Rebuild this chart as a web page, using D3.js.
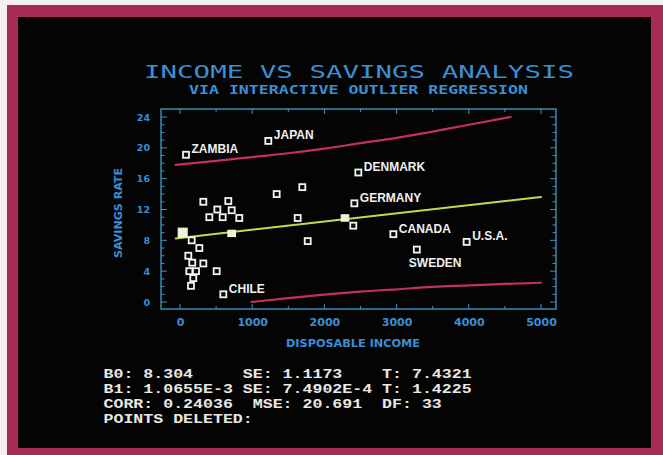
<!DOCTYPE html>
<html>
<head>
<meta charset="utf-8">
<script src="https://cdn.jsdelivr.net/npm/d3@7"></script>
<style>
  html, body { margin: 0; padding: 0; background: #ffffff; }
  svg { display: block; }
</style>
</head>
<body>
<svg id="chart" width="663" height="455"></svg>
<script>
// ---------------- DATA ----------------
const titleText = "INCOME VS SAVINGS ANALYSIS";
const subtitleText = "VIA INTERACTIVE OUTLIER REGRESSION";
const xAxisTitle = "DISPOSABLE INCOME";
const yAxisTitle = "SAVINGS RATE";
const xTickValues = [0, 1000, 2000, 3000, 4000, 5000];
const yTickValues = [0, 4, 8, 12, 16, 20, 24];

// country points: disposable income, savings rate, label
const incomes = [83, 1223, 323, 669, 517, 716, 406, 591, 821, 1339, 1694, 1630, 2285, 2470, 2415, 2400, 1769,
                 37, 716, 162, 268, 115, 323, 170, 129, 222, 508, 184, 152, 600, 2955, 3970, 3280];
const rates   = [19.1, 20.9, 13.0, 13.1, 12.0, 11.9, 11.0, 11.0, 10.9, 14.0, 14.9, 10.9, 10.9, 16.8, 12.8, 9.9, 7.9,
                 9.0, 8.9, 8.0, 7.0, 6.0, 5.0, 5.1, 4.0, 4.0, 4.0, 3.1, 2.1, 1.0, 8.8, 7.8, 6.8];
const names   = ["ZAMBIA", "JAPAN", "", "", "", "", "", "", "", "", "", "", "", "DENMARK", "GERMANY", "", "",
                 "", "", "", "", "", "", "", "", "", "", "", "", "CHILE", "CANADA", "U.S.A.", "SWEDEN"];
const selectedPoints = [17, 18, 12];   // points drawn highlighted (cursor / on-line)

// regression line and prediction band
const regX = [-60, 5000];
const regY = [8.24, 13.63];
const upperX = [-60, 500, 1000, 1500, 2000, 2500, 3000, 3500, 4000, 4580];
const upperY = [17.8, 18.3, 18.8, 19.3, 19.9, 20.6, 21.3, 22.1, 23.0, 24.0];
const lowerX = [990, 1500, 2000, 2500, 3000, 3500, 4000, 4500, 5000];
const lowerY = [0.0, 0.5, 0.95, 1.35, 1.65, 1.95, 2.15, 2.35, 2.5];

// statistics panel
const statLines = [
  "B0: 8.304     SE: 1.1173    T: 7.4321",
  "B1: 1.0655E-3 SE: 7.4902E-4 T: 1.4225",
  "CORR: 0.24036  MSE: 20.691  DF: 33",
  "POINTS DELETED:"
];

// ---------------- DRAW ----------------
const svg = d3.select("#chart");
const BLUE = "#3a8fd6";
const FRAME = "#3f93bd";

// photo border + CRT screen
svg.append("rect").attr("x", 0).attr("y", 0).attr("width", 663).attr("height", 455).attr("fill", "#f4f0f0");
svg.append("rect").attr("x", 7).attr("y", 5).attr("width", 656).attr("height", 450).attr("fill", "#a82c54");
svg.append("rect").attr("x", 18).attr("y", 17).attr("width", 633).attr("height", 431).attr("fill", "#040404");

const defs = svg.append("defs");
const glow = defs.append("filter").attr("id", "glow").attr("x", "-20%").attr("y", "-20%").attr("width", "140%").attr("height", "140%");
glow.append("feGaussianBlur").attr("stdDeviation", 0.6);

// titles
svg.append("text").attr("x", 144).attr("y", 78)
  .attr("textLength", 430).attr("lengthAdjust", "spacingAndGlyphs")
  .attr("font-family", "DejaVu Sans Mono").attr("font-size", 18.5).attr("fill", BLUE)
  .text(titleText);
svg.append("text").attr("x", 189).attr("y", 94)
  .attr("textLength", 339).attr("lengthAdjust", "spacingAndGlyphs")
  .attr("font-family", "DejaVu Sans Mono").attr("font-weight", "bold").attr("font-size", 12.5).attr("fill", BLUE)
  .text(subtitleText);

// scales
const x = d3.scaleLinear().domain([0, 5000]).range([180, 541]);
const y = d3.scaleLinear().domain([0, 24]).range([302, 117]);
const x0 = 161, x1 = 556, y0 = 109, y1 = 309;

// frame
svg.append("rect").attr("x", x0).attr("y", y0).attr("width", x1 - x0).attr("height", y1 - y0)
  .attr("fill", "none").attr("stroke", FRAME).attr("stroke-width", 1.4);

// minor/major ticks
const ticksG = svg.append("g").attr("stroke", FRAME).attr("stroke-width", 1);
d3.range(0, 25, 1).forEach(v => {
  const L = v % 4 === 0 ? 6 : 3.5;
  ticksG.append("line").attr("x1", x0).attr("x2", x0 + L).attr("y1", y(v)).attr("y2", y(v));
  ticksG.append("line").attr("x1", x1).attr("x2", x1 - L).attr("y1", y(v)).attr("y2", y(v));
});
d3.range(0, 5001, 500).forEach(v => {
  const L = v % 1000 === 0 ? 5 : 3;
  ticksG.append("line").attr("x1", x(v)).attr("x2", x(v)).attr("y1", y1).attr("y2", y1 - L);
  ticksG.append("line").attr("x1", x(v)).attr("x2", x(v)).attr("y1", y0).attr("y2", y0 + L);
});

// axis labels via d3 axes (domain/ticks hidden, the frame is drawn above)
const xAxis = d3.axisBottom(x).tickValues(xTickValues).tickSize(0).tickPadding(0).tickFormat(d3.format("d"));
const gx = svg.append("g").attr("transform", `translate(0,${318})`).call(xAxis);
gx.select(".domain").remove();
gx.selectAll("text").attr("fill", BLUE).attr("font-family", "DejaVu Sans").attr("font-weight", "bold")
  .attr("font-size", 11).attr("dy", "0.75em");

const yAxis = d3.axisLeft(y).tickValues(yTickValues).tickSize(0).tickPadding(0).tickFormat(d3.format("d"));
const gy = svg.append("g").attr("transform", `translate(${150},0)`).call(yAxis);
gy.select(".domain").remove();
gy.selectAll("text").attr("fill", BLUE).attr("font-family", "DejaVu Sans").attr("font-weight", "bold")
  .attr("font-size", 9.5);

svg.append("text").attr("x", 353).attr("y", 347).attr("text-anchor", "middle")
  .attr("textLength", 134).attr("lengthAdjust", "spacingAndGlyphs")
  .attr("font-family", "DejaVu Sans").attr("font-weight", "bold").attr("font-size", 11).attr("fill", BLUE)
  .text(xAxisTitle);
svg.append("text").attr("transform", "translate(122,213) rotate(-90)").attr("text-anchor", "middle")
  .attr("textLength", 90).attr("lengthAdjust", "spacingAndGlyphs")
  .attr("font-family", "DejaVu Sans").attr("font-weight", "bold").attr("font-size", 10).attr("fill", BLUE)
  .text(yAxisTitle);

// band lines and regression
const line = d3.line().x(d => x(d[0])).y(d => y(d[1])).curve(d3.curveMonotoneX);
const upper = upperX.map((v, i) => [v, upperY[i]]);
const lower = lowerX.map((v, i) => [v, lowerY[i]]);
const reg = regX.map((v, i) => [v, regY[i]]);
[upper, lower].forEach(pts => {
  svg.append("path").attr("d", line(pts)).attr("fill", "none").attr("stroke", "#c2305e")
    .attr("stroke-width", 2.2).attr("stroke-linecap", "round");
});
svg.append("path").attr("d", line(reg)).attr("fill", "none").attr("stroke", "#c9d84a")
  .attr("stroke-width", 2).attr("stroke-linecap", "round");

// points
const pts = incomes.map((v, i) => ({ inc: v, rate: rates[i], name: names[i], i }));
const normal = pts.filter(d => !selectedPoints.includes(d.i));
svg.append("g").selectAll("rect").data(normal).join("rect")
  .attr("x", d => x(d.inc) - 3).attr("y", d => y(d.rate) - 3)
  .attr("width", 6).attr("height", 6)
  .attr("fill", "#0a0a0a").attr("stroke", "#f4f4f0").attr("stroke-width", 1.8);
const sel = pts.filter(d => selectedPoints.includes(d.i));
svg.append("g").selectAll("rect").data(sel).join("rect")
  .attr("x", d => x(d.inc) - (d.i === selectedPoints[0] ? 4.5 : 3.8))
  .attr("y", d => y(d.rate) - (d.i === selectedPoints[0] ? 4.5 : 3.2))
  .attr("width", d => d.i === selectedPoints[0] ? 9 : 7.6)
  .attr("height", d => d.i === selectedPoints[0] ? 9 : 6.4)
  .attr("fill", "#f2f2d6").attr("stroke", "#fbfbea").attr("stroke-width", 1)
  .attr("filter", "url(#glow)");

// country labels
const labelled = pts.filter(d => d.name);
svg.append("g").selectAll("text").data(labelled).join("text")
  .attr("x", d => x(d.inc) + (d.name === "SWEDEN" ? -8 : 5.5))
  .attr("y", d => y(d.rate) + (d.name === "SWEDEN" ? 17 : -1.5))
  .attr("font-family", "Liberation Sans").attr("font-weight", "bold").attr("font-size", 12)
  .attr("fill", "#f0f0f0")
  .text(d => d.name);

// statistics text (monospace columns, each line stretched to 9.95px per character)
svg.append("g").selectAll("text").data(statLines).join("text")
  .attr("x", 103.5).attr("y", (d, i) => 377.5 + i * 15.2)
  .attr("textLength", d => d.length * 9.95).attr("lengthAdjust", "spacingAndGlyphs")
  .attr("font-family", "Liberation Mono").attr("font-weight", "bold").attr("font-size", 13.4)
  .attr("fill", "#e8e8e4").style("white-space", "pre")
  .text(d => d);
</script>
</body>
</html>
